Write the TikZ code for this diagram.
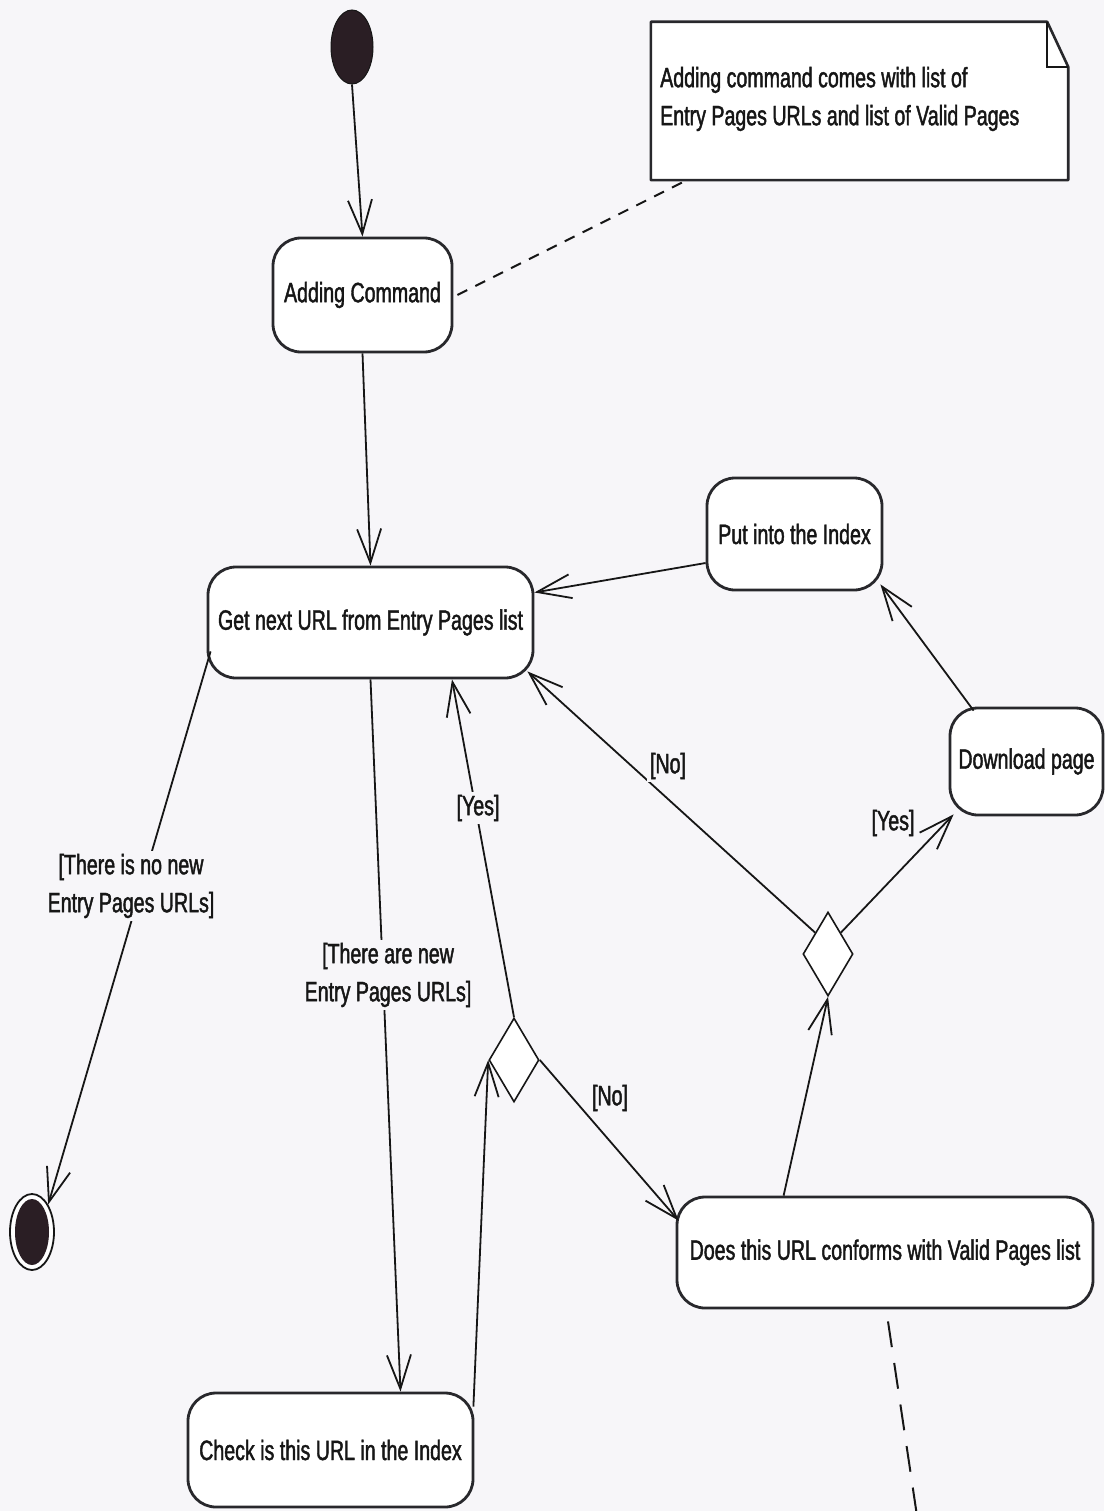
\documentclass[tikz,border=0pt]{standalone}
\usepackage{fontspec}
\setmainfont{Liberation Sans}[FakeStretch=0.70, FakeBold=1.5]
\usetikzlibrary{arrows.meta,shapes.geometric,calc}

\definecolor{paper}{RGB}{247,246,249}
\definecolor{ink}{RGB}{22,22,22}
\definecolor{edge}{RGB}{40,40,44}
\definecolor{dot}{RGB}{42,30,36}

\tikzset{
  every node/.style={font=\fontsize{28}{38}\selectfont, text=ink},
  activity/.style={draw=edge, line width=2.8pt, fill=white, rounded corners=28pt,
                   inner sep=0pt},
  decision/.style={diamond, draw=ink, line width=1.6pt, fill=white, inner sep=0pt,
                   minimum width=50pt, minimum height=84pt},
  flow/.style={draw=ink, line width=1.8pt,
               -{Straight Barb[length=34pt,width=24pt,line width=1.8pt]}},
  guard/.style={fill=paper, inner sep=3pt, align=center},
  anchorline/.style={draw=ink, line width=2pt, dash pattern=on 11pt off 9pt},
}

\begin{document}
\begin{tikzpicture}[x=1pt,y=-1pt]
  % page
  \fill[paper] (0,0) rectangle (1104,1511);
  \useasboundingbox (0,0) rectangle (1104,1511);

  % start and end
  \node[ellipse, fill=dot, draw=ink, line width=1pt, minimum width=42pt,
        minimum height=74pt, inner sep=0pt] (init) at (352,47) {};
  \node[ellipse, draw=ink, line width=1.8pt, fill=white, minimum width=44pt,
        minimum height=76pt, inner sep=0pt] (final) at (32,1232) {};
  \fill[dot] (32,1232) ellipse [x radius=17pt, y radius=33pt];

  % activities
  \node[activity, minimum width=179pt, minimum height=114pt] (add) at (362.5,295)
       {Adding Command};
  \node[activity, minimum width=325pt, minimum height=111pt] (getnext) at (370.5,622.5)
       {Get next URL from Entry Pages list};
  \node[activity, minimum width=175pt, minimum height=112pt] (put) at (794.5,534)
       {Put into the Index};
  \node[activity, minimum width=153pt, minimum height=107pt] (dl) at (1026.5,761.5)
       {Download page};
  \node[activity, minimum width=285pt, minimum height=114pt] (check) at (330.5,1450)
       {Check is this URL in the Index};
  \node[activity, minimum width=416pt, minimum height=111pt] (does) at (885,1252.5)
       {Does this URL conforms with Valid Pages list};

  % decisions
  \node[decision] (d1) at (828,954) {};
  \node[decision] (d2) at (514,1060) {};

  % note with folded corner
  \node[minimum width=417pt, minimum height=158pt, inner sep=0pt] (note) at (859.5,101) {};
  \draw[draw=edge, line width=2.6pt, fill=white, line join=round]
    (note.south west) -- (note.north west) -- ($(note.north east)+(-21,0)$)
    -- ($(note.north east)+(0,45)$) -- (note.south east) -- cycle;
  \draw[draw=ink, line width=1.5pt]
    ($(note.north east)+(-21,0)$) -- ($(note.north east)+(-21,45)$)
    -- ($(note.north east)+(0,45)$);
  \node[align=left, inner sep=0pt, anchor=west] (notetext) at (660,99)
       {Adding command comes with list of\\Entry Pages URLs and list of Valid Pages};
  \coordinate (notefoot) at ($(note.south west)+(32,2)$);
  \coordinate (tail) at (917,1516);

  % control flows
  \draw[flow] (init.south) -- (add.north);
  \draw[flow] (add.south) -- (getnext.north);
  \draw[anchorline] ($(add.east)+(4,0)$) -- (notefoot);
  \draw[flow] ($(put.west)+(0,29)$) -- ($(getnext.east)+(0,-30)$);
  \draw[flow] ($(dl.north west)+(25,4)$) -- ($(put.south east)+(-3,-7)$);
  \draw[flow] (d1.north west) -- ($(getnext.south east)+(-7,-8)$);
  \draw[flow] (d1.north east) -- ($(dl.south west)+(5,-2)$);
  \draw[flow] ($(does.north west)+(108,0)$) -- (d1.south);
  \draw[flow] (d2.north) -- ($(getnext.south)+(81.5,0)$);
  \draw[flow] (d2.east) -- ($(does.north west)+(3,25)$);
  \draw[flow] ($(check.north east)+(-1,15)$) -- (d2.west);
  \draw[flow] (getnext.south) -- ($(check.north)+(70,0)$);
  \draw[flow] ($(getnext.south west)+(4,-28)$) -- (final.north east);
  \draw[anchorline, dash pattern=on 26pt off 16pt] ($(does.south)+(3,12)$) -- (tail);

  % guards
  \node[guard] at (668,766) {[No]};
  \node[guard] at (478,808) {[Yes]};
  \node[guard] at (893,823) {[Yes]};
  \node[inner sep=0pt] at (610,1098) {[No]};
  \node[guard] at (388,975) {[There are new\\Entry Pages URLs]};
  \node[guard] at (131,886) {[There is no new\\Entry Pages URLs]};
\end{tikzpicture}
\end{document}
